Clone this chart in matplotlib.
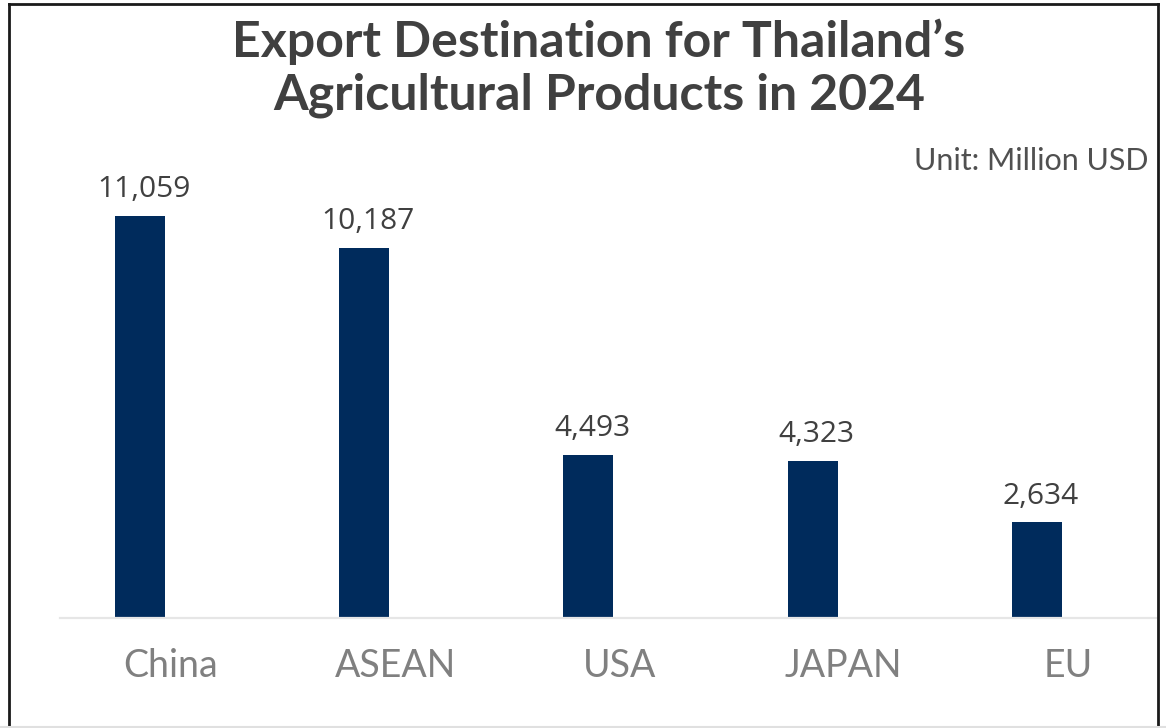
import matplotlib
matplotlib.use("Agg")
import matplotlib.pyplot as plt
import matplotlib.transforms as mtransforms
from matplotlib.lines import Line2D

# export values by destination, million USD
destinations = ["China", "ASEAN", "USA", "JAPAN", "EU"]
export_values = [11059, 10187, 4493, 4323, 2634]

bar_color = "#002B5C"
dark_text = "#404040"
label_gray = "#808080"

W, H = 1166, 728
fig = plt.figure(figsize=(W / 100, H / 100), dpi=100)
ax = fig.add_axes([60 / W, 110 / H, 1098 / W, 458 / H])

x = list(range(len(destinations)))
bars = ax.bar(x, export_values, width=0.223, color=bar_color)

# value labels sit a little above each bar
for rect, val in zip(bars, export_values):
    ax.annotate(f"{val:,}", (rect.get_x() + rect.get_width() / 2, val),
                xytext=(3, 13.5), textcoords="offset points",
                ha="center", va="baseline", fontsize=21.5, color=dark_text,
                family="Open Sans")

ax.set_xlim(-0.357, 4.54)
ax.set_ylim(0, 12600)
ax.set_yticks([])
ax.set_xticks([])
for side in ["top", "right", "left"]:
    ax.spines[side].set_visible(False)
ax.spines["bottom"].set_color("#E6E6E6")
ax.spines["bottom"].set_linewidth(1.6)

# category names under the axis, nudged right
cat_trans = mtransforms.offset_copy(ax.get_xaxis_transform(), fig=fig,
                                    x=31, y=-59, units="dots")
for xi, name in zip(x, destinations):
    ax.text(xi, 0, name, transform=cat_trans, ha="center", va="baseline",
            fontsize=27, color=label_gray, family="Lato")

fig.text(599 / W, 1 - 57 / H, "Export Destination for Thailand\u2019s",
         ha="center", va="baseline", fontsize=36, fontweight="bold",
         color=dark_text, family="Lato")
fig.text(599 / W, 1 - 110 / H, "Agricultural Products in 2024",
         ha="center", va="baseline", fontsize=36, fontweight="bold",
         color=dark_text, family="Lato")
fig.text(1148 / W, 1 - 170 / H, "Unit: Million USD", ha="right", va="baseline",
         fontsize=22, color="#505050", family="Lato")

# frame round the figure: dark on three sides, pale along the bottom
frame_dark = dict(color="#1A1A1A", linewidth=2, transform=fig.transFigure)
fig.lines.append(Line2D([9 / W, 9 / W], [0, 1 - 4 / H], **frame_dark))
fig.lines.append(Line2D([9 / W, 1158 / W], [1 - 4 / H, 1 - 4 / H], **frame_dark))
fig.lines.append(Line2D([1158 / W, 1158 / W], [0, 1 - 4 / H], **frame_dark))
fig.lines.append(Line2D([0, 1], [1.5 / H, 1.5 / H], color="#E0E0E0",
                        linewidth=1.5, transform=fig.transFigure))

fig.savefig("out.png", dpi=100)
